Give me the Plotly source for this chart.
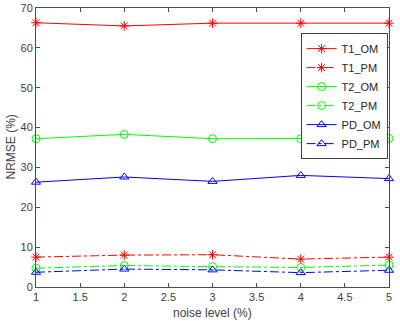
import plotly.graph_objects as go

noise_level = [1, 2, 3, 4, 5]
T1_OM = [66.3, 65.5, 66.2, 66.2, 66.2]
T1_PM = [7.5, 8.0, 8.1, 7.0, 7.5]
T2_OM = [37.2, 38.3, 37.2, 37.2, 37.3]
T2_PM = [4.7, 5.4, 5.1, 4.9, 5.5]
PD_OM = [26.3, 27.6, 26.5, 28.0, 27.2]
PD_PM = [3.7, 4.5, 4.3, 3.6, 4.2]

x_ticks = [1, 1.5, 2, 2.5, 3, 3.5, 4, 4.5, 5]
x_ticktext = ["1", "1.5", "2", "2.5", "3", "3.5", "4", "4.5", "5"]
y_ticks = [0, 10, 20, 30, 40, 50, 60, 70]

series = [
    ("T1_OM", T1_OM, "#ff0000", "solid", "asterisk-open"),
    ("T1_PM", T1_PM, "#ff0000", "dashdot", "asterisk-open"),
    ("T2_OM", T2_OM, "#00ff00", "solid", "circle-open"),
    ("T2_PM", T2_PM, "#00ff00", "dashdot", "circle-open"),
    ("PD_OM", PD_OM, "#0000ff", "solid", "triangle-up-open"),
    ("PD_PM", PD_PM, "#0000ff", "dashdot", "triangle-up-open"),
]

fig = go.Figure()
for name, vals, color, dash, sym in series:
    fig.add_trace(go.Scatter(
        x=noise_level, y=vals, name=name, mode="lines+markers",
        line=dict(color=color, width=1, dash=dash),
        marker=dict(symbol=sym, size=8, color=color, line=dict(color=color, width=1)),
        cliponaxis=False,
    ))

axis_common = dict(
    showline=True, linecolor="#4d4d4d", linewidth=1, mirror="ticks",
    ticks="inside", ticklen=4, tickcolor="#4d4d4d",
    showgrid=False, zeroline=False, automargin=False,
    tickfont=dict(family="Liberation Sans, Arial", size=11, color="#404040"),
)

fig.update_layout(
    width=400, height=321,
    margin=dict(l=36, r=11, t=8, b=34),
    paper_bgcolor="white", plot_bgcolor="white",
    font=dict(family="Liberation Sans, Arial", size=11, color="#404040"),
    xaxis=dict(range=[1, 5], tickmode="array", tickvals=x_ticks, ticktext=x_ticktext,
               **axis_common),
    yaxis=dict(range=[0, 70], tickmode="array", tickvals=y_ticks,
               **axis_common),
    legend=dict(x=0.996, y=0.91, xanchor="right", yanchor="top",
                bgcolor="white", bordercolor="#404040", borderwidth=1,
                font=dict(size=11, color="#262626"),
                tracegroupgap=0, itemwidth=30),
    showlegend=True,
    annotations=[
        dict(text="noise level (%)", xref="paper", yref="paper", x=0.5, y=0,
             yshift=-26, yanchor="middle", xanchor="center", showarrow=False,
             font=dict(size=12, color="#404040")),
        dict(text="NRMSE (%)", xref="paper", yref="paper", x=0, y=0.5,
             xshift=-26, xanchor="center", yanchor="middle", textangle=-90,
             showarrow=False, font=dict(size=12, color="#404040")),
    ],
)

fig.write_html("out.html", config={"displayModeBar": False},
               post_script="document.body.style.margin='0';")
